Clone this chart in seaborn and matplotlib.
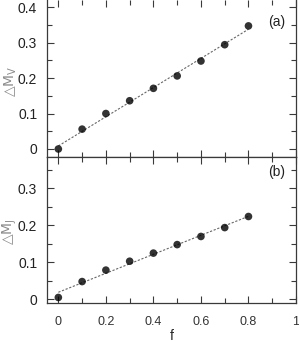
"""Two stacked panels: offsets dM_V and dM_J against f, with linear fits."""
import matplotlib
matplotlib.use('Agg')
import matplotlib.pyplot as plt
from matplotlib.ticker import MultipleLocator
import numpy as np
import pandas as pd
import seaborn as sns

f_vals = [0.0, 0.1, 0.2, 0.3, 0.4, 0.5, 0.6, 0.7, 0.8]
dmv_vals = [0.0, 0.056, 0.100, 0.136, 0.171, 0.206, 0.248, 0.294, 0.347]
dmj_vals = [0.005, 0.048, 0.079, 0.103, 0.125, 0.148, 0.170, 0.194, 0.224]
x_ticks = [0, 0.2, 0.4, 0.6, 0.8, 1]
x_tick_labels = ['0', '0.2', '0.4', '0.6', '0.8', '1']

sns.set_style('ticks')
plt.rcParams['font.family'] = ['Liberation Sans', 'DejaVu Sans']

df = pd.DataFrame({'f': f_vals, 'dmv': dmv_vals, 'dmj': dmj_vals})

fig = plt.figure(figsize=(2.99, 3.42), dpi=100)
ax_a = fig.add_axes([0.157, 0.541, 0.833, 0.459])
ax_b = fig.add_axes([0.157, 0.114, 0.833, 0.427])

spine_col = '#3a3a3a'
scatter_kws = {'s': 30, 'color': 'black', 'edgecolors': 'none', 'zorder': 3}
line_kws = {'color': '#666666', 'linewidth': 0.8, 'linestyle': (0, (2, 1.5))}

for ax, col, ylim, ylab, tag, tag_y in [
    (ax_a, 'dmv', (-0.0225, 0.42), '△M$_\\mathregular{V}$', '(a)', 0.86),
    (ax_b, 'dmj', (-0.01, 0.385), '△M$_\\mathregular{J}$', '(b)', 0.895),
]:
    sns.regplot(data=df, x='f', y=col, ax=ax, ci=None,
                scatter_kws=scatter_kws, line_kws=line_kws)
    ax.set_xlim(-0.048, 1.0)
    ax.set_ylim(*ylim)
    ax.xaxis.set_major_locator(MultipleLocator(0.2))
    ax.xaxis.set_minor_locator(MultipleLocator(0.1))
    ax.yaxis.set_major_locator(MultipleLocator(0.1))
    ax.yaxis.set_minor_locator(MultipleLocator(0.05))
    ax.tick_params(which='both', direction='in', top=True, right=True,
                   color=spine_col, width=0.8)
    ax.tick_params(which='major', length=5)
    ax.tick_params(which='minor', length=3.5)
    ax.tick_params(axis='y', which='major', pad=7, labelsize=10, labelcolor='#222222')
    ax.tick_params(axis='x', which='major', pad=9, labelsize=9, labelcolor='#333333')
    for sp in ax.spines.values():
        sp.set_color(spine_col)
        sp.set_linewidth(0.9)
    ax.set_ylabel(ylab, fontsize=10, color='#8a8a8a', fontfamily='DejaVu Sans')
    ax.text(0.955, tag_y, tag, transform=ax.transAxes, ha='right', va='center',
            fontsize=10, color='#222222')

ax_a.set_yticks([0, 0.1, 0.2, 0.3, 0.4])
ax_a.set_yticklabels(['0', '0.1', '0.2', '0.3', '0.4'])
ax_a.set_xlabel('')
ax_a.tick_params(axis='x', labelbottom=False)
ax_a.spines['top'].set_visible(False)

ax_b.set_yticks([0, 0.1, 0.2, 0.3])
ax_b.set_yticklabels(['0', '0.1', '0.2', '0.3'])
ax_b.set_xticks(x_ticks)
ax_b.set_xticklabels(x_tick_labels)
ax_b.set_xlabel('f', fontsize=10, labelpad=1)

ax_a.yaxis.set_label_coords(-0.112, 0.48)
ax_b.yaxis.set_label_coords(-0.112, 0.49)

fig.savefig('out.png', dpi=100)
plt.close(fig)
